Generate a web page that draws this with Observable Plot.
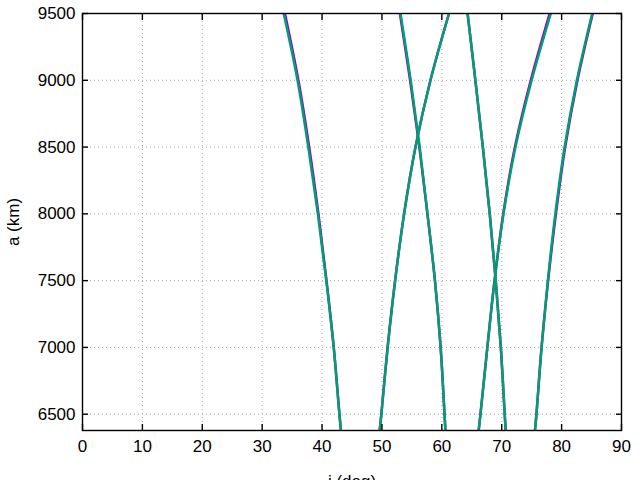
<!DOCTYPE html>
<html><head><meta charset="utf-8">
<script src="https://cdn.jsdelivr.net/npm/d3@7"></script>
<script src="https://cdn.jsdelivr.net/npm/@observablehq/plot@0.6"></script>
<style>
body{margin:0;background:#fff}
svg{font-family:"Liberation Sans",Arial,Helvetica,sans-serif}
</style>
</head><body><div id="chart"></div>
<script>
// semi-major axis levels (km) at which inclinations were read
const aLevels = [6378, 6500, 7000, 7500, 8000, 8500, 9000, 9500];

// green series (drawn on top), inclination (deg) per curve
const green1 = [43.15, 42.9, 41.95, 40.7, 39.3, 37.7, 35.9, 33.6];
const green2 = [60.6, 60.45, 59.8, 58.85, 57.6, 56.3, 54.8, 53.1];
const green3 = [49.62, 49.9, 50.95, 52.2, 53.7, 55.6, 58.1, 61.2];
const green4 = [70.66, 70.5, 69.85, 69.0, 68.0, 66.85, 65.6, 64.3];
const green5 = [66.15, 66.45, 67.6, 68.8, 70.3, 72.3, 75.0, 78.2];
const green6 = [75.55, 75.8, 76.65, 77.7, 78.95, 80.5, 82.55, 85.1];

// purple series (drawn underneath), nearly coincident
const purple1 = [43.15, 42.9, 41.95, 40.75, 39.4, 37.85, 36.05, 33.8];
const purple2 = [60.6, 60.45, 59.8, 58.85, 57.6, 56.25, 54.7, 53.0];
const purple3 = [49.62, 49.9, 50.95, 52.2, 53.7, 55.6, 58.1, 61.2];
const purple4 = [70.66, 70.5, 69.85, 69.0, 68.0, 66.85, 65.6, 64.3];
const purple5 = [66.15, 66.45, 67.6, 68.8, 70.25, 72.2, 74.85, 78.0];
const purple6 = [75.55, 75.8, 76.65, 77.75, 79.05, 80.6, 82.65, 85.2];

const xTicks = [0, 10, 20, 30, 40, 50, 60, 70, 80, 90];
const yTicks = [6500, 7000, 7500, 8000, 8500, 9000, 9500];

const seriesColors = {purple: "#9400d3", green: "#009e73"};

function toRows(name, curves) {
  const rows = [];
  curves.forEach((c, ci) => c.forEach((inc, k) => rows.push({series: name, curve: name + ci, i: inc, a: aLevels[k]})));
  return rows;
}
const purpleRows = toRows("purple", [purple1, purple2, purple3, purple4, purple5, purple6]);
const greenRows = toRows("green", [green1, green2, green3, green4, green5, green6]);

const gridStyle = {stroke: "#a8a8a8", strokeOpacity: 1, strokeDasharray: "1,3", strokeWidth: 1};

const chart = Plot.plot({
  width: 640,
  height: 480,
  marginLeft: 82,
  marginRight: 19,
  marginTop: 13,
  marginBottom: 50,
  style: {fontSize: "17px", fontFamily: "'Liberation Sans', Arial, sans-serif", background: "white", color: "black"},
  x: {domain: [0, 90]},
  y: {domain: [6378, 9500]},
  marks: [
    Plot.gridX(xTicks, gridStyle),
    Plot.gridY(yTicks, gridStyle),
    Plot.line(purpleRows, {x: "i", y: "a", z: "curve", stroke: seriesColors.purple, strokeWidth: 2.5, curve: "catmull-rom", clip: true}),
    Plot.line(greenRows, {x: "i", y: "a", z: "curve", stroke: seriesColors.green, strokeWidth: 2.5, curve: "catmull-rom", clip: true}),
    Plot.frame({stroke: "black", strokeWidth: 1.4}),
    Plot.axisX(xTicks, {anchor: "bottom", tickSize: -6, text: null, label: null, strokeWidth: 1.4}),
    Plot.axisX(xTicks, {anchor: "top", tickSize: -6, text: null, label: null, strokeWidth: 1.4}),
    Plot.axisY(yTicks, {anchor: "left", tickSize: -6, text: null, label: null, strokeWidth: 1.4}),
    Plot.axisY(yTicks, {anchor: "right", tickSize: -6, text: null, label: null, strokeWidth: 1.4}),
    Plot.axisX(xTicks, {anchor: "bottom", tickSize: 0, tickPadding: 9, tickFormat: "d", label: "i (deg)", labelAnchor: "center", labelArrow: "none", labelOffset: 56}),
    Plot.axisY(yTicks, {anchor: "left", tickSize: 0, tickPadding: 7, tickFormat: "d", label: "a (km)", labelAnchor: "center", labelArrow: "none", labelOffset: 76})
  ]
});
document.getElementById("chart").appendChild(chart);
</script>
</body></html>
